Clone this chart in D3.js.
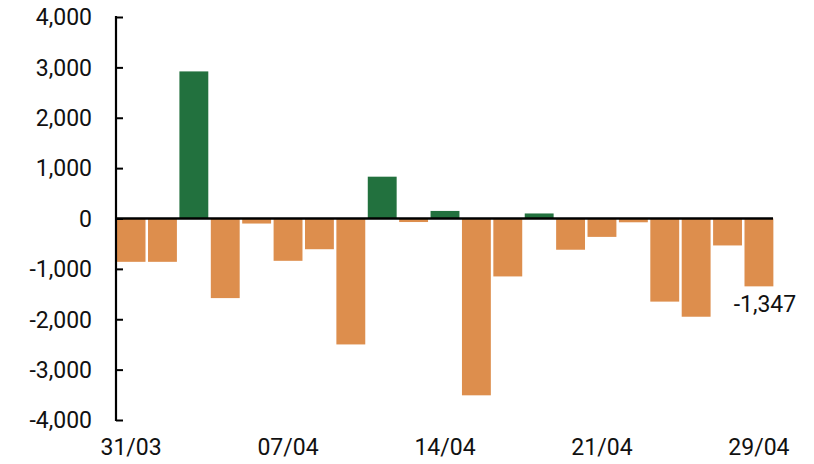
<!DOCTYPE html>
<html>
<head>
<meta charset="utf-8">
<script src="https://cdn.jsdelivr.net/npm/d3@7.9.0/dist/d3.min.js"></script>
<style>
  html, body { margin: 0; padding: 0; background: #fff; }
  svg { display: block; font-family: Roboto, "Liberation Sans", sans-serif; }
</style>
</head>
<body>
<svg id="chart" width="814" height="464"></svg>
<script>
// daily values, business days from 31/03 to 29/04
const dates = [
  '31/03', '01/04', '02/04', '03/04', '04/04',
  '07/04', '08/04', '09/04', '10/04', '11/04',
  '14/04', '15/04', '16/04', '17/04', '18/04',
  '21/04', '23/04', '24/04', '25/04', '28/04', '29/04'
];
const values = [
  -860, -860, 2920, -1580, -100,
  -840, -610, -2500, 830, -70,
  150, -3510, -1150, 100, -620,
  -365, -75, -1650, -1950, -535, -1347
];
const yTicks = [-4000, -3000, -2000, -1000, 0, 1000, 2000, 3000, 4000];
const xTickLabels = ['31/03', '07/04', '14/04', '21/04', '29/04'];

const svg = d3.select('#chart');
const plotLeft = 116, plotRight = 774, plotTop = 17, plotBottom = 420;
const fontSize = 23;

const x = d3.scaleBand()
  .domain(dates)
  .range([plotLeft, plotRight])
  .paddingInner(0.08)
  .paddingOuter(0.02);

const y = d3.scaleLinear()
  .domain([-4000, 4000])
  .range([plotBottom, plotTop]);

// plain hyphen for negatives, like the source chart
const fmt = d3.formatLocale({
  decimal: '.', thousands: ',', grouping: [3], currency: ['', ''], minus: '-'
}).format(',');

// bars
svg.append('g')
  .selectAll('rect')
  .data(values)
  .join('rect')
  .attr('x', (d, i) => x(dates[i]))
  .attr('width', x.bandwidth())
  .attr('y', (d) => y(Math.max(0, d)))
  .attr('height', (d) => Math.abs(y(d) - y(0)))
  .attr('fill', (d) => (d >= 0 ? '#22713e' : '#dd8e4d'));

// y axis, ticks pointing inward
const yAxis = svg.append('g')
  .attr('transform', `translate(${plotLeft},0)`)
  .call(d3.axisRight(y).tickValues(yTicks).tickSize(7).tickFormat(''));
yAxis.select('.domain').remove();
yAxis.selectAll('.tick line').attr('stroke', '#000').attr('stroke-width', 2);
yAxis.append('line')
  .attr('x1', 0).attr('x2', 0)
  .attr('y1', y(4000) - 1).attr('y2', y(-4000) + 1)
  .attr('stroke', '#000').attr('stroke-width', 2.2);

svg.append('g')
  .selectAll('text')
  .data(yTicks)
  .join('text')
  .attr('x', 92)
  .attr('y', (d) => y(d))
  .attr('dy', '0.36em')
  .attr('text-anchor', 'end')
  .attr('font-size', fontSize)
  .attr('fill', '#111')
  .text((d) => fmt(d));

// zero line
svg.append('line')
  .attr('x1', plotLeft).attr('x2', plotRight - 1)
  .attr('y1', y(0)).attr('y2', y(0))
  .attr('stroke', '#000').attr('stroke-width', 2.6);

// x labels
svg.append('g')
  .selectAll('text')
  .data(xTickLabels)
  .join('text')
  .attr('x', (d) => x(d) + x.bandwidth() / 2)
  .attr('y', 455)
  .attr('text-anchor', 'middle')
  .attr('font-size', fontSize)
  .attr('fill', '#111')
  .text((d) => d);

// last value label
const last = values.length - 1;
svg.append('text')
  .attr('x', x(dates[last]) + x.bandwidth() / 2 + 6)
  .attr('y', y(values[last]) + 26)
  .attr('text-anchor', 'middle')
  .attr('font-size', fontSize)
  .attr('fill', '#111')
  .text(fmt(values[last]));
</script>
</body>
</html>
